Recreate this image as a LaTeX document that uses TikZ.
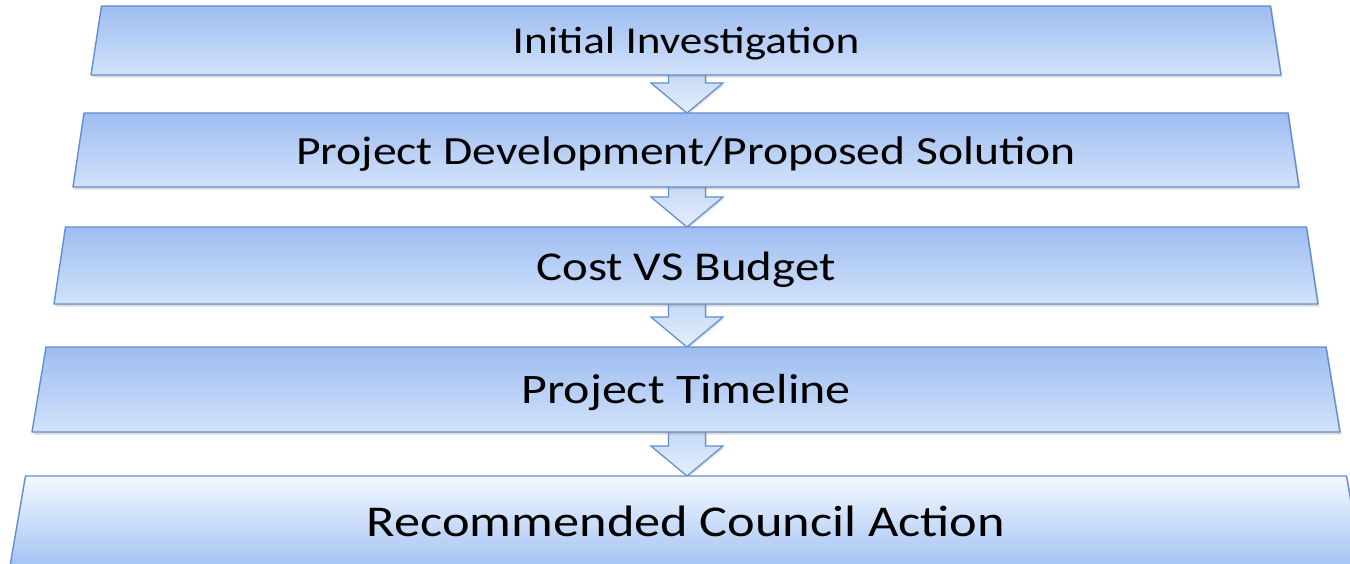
\documentclass[tikz,border=0pt]{standalone}
\usepackage{fontspec}
\setmainfont{Carlito}
\usetikzlibrary{calc,shadows}

\definecolor{edgeblue}{HTML}{5F8FCF}
\definecolor{stepdark}{HTML}{9EBDF1}
\definecolor{steplight}{HTML}{D2E2FA}
\definecolor{lastlight}{HTML}{F3F9FF}
\definecolor{lastdark}{HTML}{A5C3F3}
\definecolor{arrowtop}{HTML}{C3D6F6}
\definecolor{arrowbot}{HTML}{E4EEFC}

\newcommand{\steptext}[2]{\fontsize{#1}{#1}\selectfont\scalebox{1.19}[1]{#2}}
\newcommand{\steparrow}[2]{%
  \draw[downarrow] ($(#1)+(-18.5,-8)$) -- ($(#2)+(-18.5,-30)$) -- ($(#2)+(-36,-30)$)
    -- (#2) -- ($(#2)+(36,-30)$) -- ($(#2)+(18.5,-30)$) -- ($(#1)+(18.5,-8)$) -- cycle;}

\begin{document}
\begin{tikzpicture}[x=1pt,y=-1pt,
  stepbox/.style={draw=edgeblue, line width=1.4pt, line join=round,
    top color=stepdark, bottom color=steplight,
    drop shadow={shadow xshift=1.5pt, shadow yshift=-2.5pt, opacity=0.3}},
  lastbox/.style={stepbox, top color=lastlight, bottom color=lastdark},
  downarrow/.style={draw=edgeblue, line width=1.2pt, line join=miter,
    top color=arrowtop, bottom color=arrowbot,
    drop shadow={shadow xshift=1pt, shadow yshift=-2pt, opacity=0.25}},
  steplabel/.style={inner sep=0pt, text=black}]
\useasboundingbox (0,0) rectangle (1350,564);

% where the arrows leave and enter the steps
\coordinate (s1 out) at (687,75);
\coordinate (s2 in) at (687,113);
\coordinate (s2 out) at (687,187);
\coordinate (s3 in) at (687,227);
\coordinate (s3 out) at (687,304);
\coordinate (s4 in) at (687,347);
\coordinate (s4 out) at (687,432);
\coordinate (s5 in) at (687,476);

\steparrow{s1 out}{s2 in}
\steparrow{s2 out}{s3 in}
\steparrow{s3 out}{s4 in}
\steparrow{s4 out}{s5 in}

% the steps
\draw[stepbox] (101.5,6) -- (1270.5,6) -- (1281,75) -- (91,75) -- cycle;
\draw[stepbox] (84,113) -- (1288,113) -- (1299,187) -- (73,187) -- cycle;
\draw[stepbox] (65.5,227) -- (1306.5,227) -- (1318,304) -- (54,304) -- cycle;
\draw[stepbox] (46,347) -- (1326,347) -- (1340,432) -- (32,432) -- cycle;
\draw[lastbox] (25.5,476) -- (1346.5,476) -- (1362,566) -- (10,566) -- cycle;

\node[steplabel] (s1) at (686,44) {\steptext{38}{Initial Investigation}};
\node[steplabel] (s2) at (686,154) {\steptext{40}{Project Development/Proposed Solution}};
\node[steplabel] (s3) at (686,270) {\steptext{41}{Cost VS Budget}};
\node[steplabel] (s4) at (686,393) {\steptext{42}{Project Timeline}};
\node[steplabel] (s5) at (686,521) {\steptext{44}{Recommended Council Action}};
\end{tikzpicture}
\end{document}
